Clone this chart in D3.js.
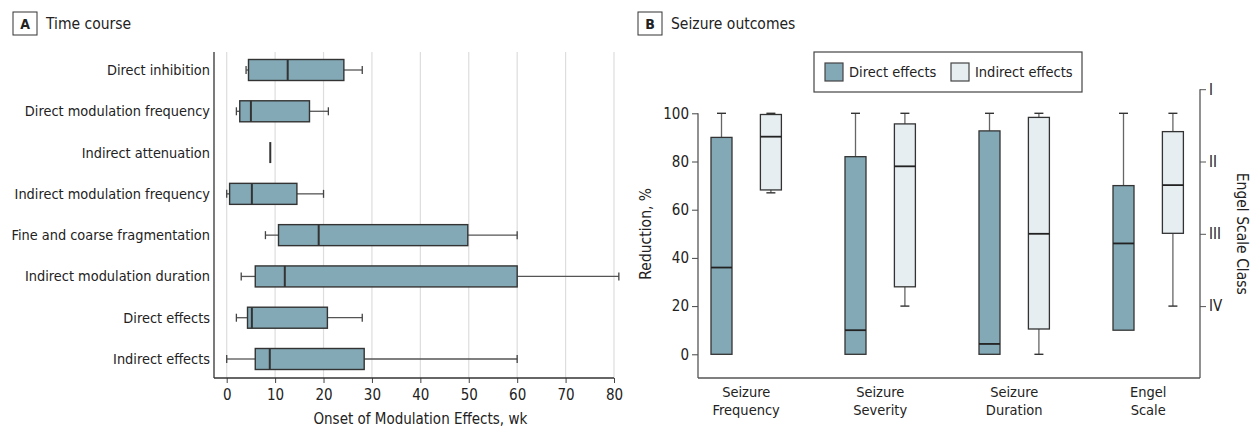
<!DOCTYPE html>
<html>
<head>
<meta charset="utf-8">
<script src="https://cdn.jsdelivr.net/npm/d3@7"></script>
<style>
  body { margin: 0; background: #fff; }
  svg text { font-family: "Liberation Sans Narrow", "DejaVu Sans Condensed", sans-serif; fill: #222; }
</style>
</head>
<body>
<div id="chart"></div>
<script>
// Panel A: onset of modulation effects (weeks)
var catsA = ["Direct inhibition", "Direct modulation frequency", "Indirect attenuation",
  "Indirect modulation frequency", "Fine and coarse fragmentation", "Indirect modulation duration",
  "Direct effects", "Indirect effects"];
var minA = [4, 2, 9, 0, 8, 3, 2, 0];
var q1A  = [4.5, 2.7, 9, 0.6, 10.7, 5.9, 4.3, 5.9];
var medA = [12.6, 5, 9, 5.2, 19, 12, 5.2, 8.9];
var q3A  = [24.2, 17.1, 9, 14.5, 49.8, 60, 20.8, 28.4];
var maxA = [28, 21, 9, 20, 60, 81, 28, 60];
var ticksA = [0, 10, 20, 30, 40, 50, 60, 70, 80];

// Panel B: seizure outcomes (% reduction)
var catsB = ["Seizure Frequency", "Seizure Severity", "Seizure Duration", "Engel Scale"];
var catsBLines = [["Seizure", "Frequency"], ["Seizure", "Severity"], ["Seizure", "Duration"], ["Engel", "Scale"]];
var groupsB = ["Direct effects", "Indirect effects"];
var directMin = [0, 0, 0, 10];
var directQ1  = [0, 0, 0, 10];
var directMed = [36, 10, 4.3, 46];
var directQ3  = [90, 82, 92.7, 70];
var directMax = [100, 100, 100, 100];
var indirectMin = [67, 20, 0, 20];
var indirectQ1  = [68.2, 28, 10.5, 50.2];
var indirectMed = [90.3, 78, 50, 70.2];
var indirectQ3  = [99.5, 95.6, 98.3, 92.4];
var indirectMax = [100, 100, 100, 100];
var ticksB = [0, 20, 40, 60, 80, 100];
var engelLabels = ["I", "II", "III", "IV"];
var engelClass = [1, 2, 3, 4];

var darkFill = "#84a9b6", lightFill = "#e6eef1", edge = "#333";

var svg = d3.select("#chart").append("svg")
  .attr("width", 1254)
  .attr("height", 430);

// panel header tags
function header(x, letter, title) {
  svg.append("rect").attr("x", x).attr("y", 12).attr("width", 24).attr("height", 23)
    .attr("fill", "#fff").attr("stroke", "#333").attr("stroke-width", 1);
  svg.append("text").attr("x", x + 12).attr("y", 29).attr("text-anchor", "middle")
    .style("font-weight", "bold").style("font-size", "14px").text(letter);
  svg.append("text").attr("x", x + 33).attr("y", 29).style("font-size", "15.5px").text(title);
}
header(13, "A", "Time course");
header(638, "B", "Seizure outcomes");

// ---------- Panel A ----------
var xA = d3.scaleLinear().domain([0, 80]).range([226.7, 614]);
var yA = d3.scalePoint().domain(catsA).range([70, 359]);
var rowsA = catsA.map(function(c, i) {
  return { cat: c, min: minA[i], q1: q1A[i], med: medA[i], q3: q3A[i], max: maxA[i] };
});

var gA = svg.append("g");
gA.selectAll("line.grid").data(ticksA).enter().append("line")
  .attr("class", "grid")
  .attr("x1", function(d) { return xA(d); }).attr("x2", function(d) { return xA(d); })
  .attr("y1", 52).attr("y2", 378)
  .attr("stroke", "#ddd").attr("stroke-width", 1.2);

var axA = gA.append("g").attr("transform", "translate(0,378)")
  .call(d3.axisBottom(xA).tickValues(ticksA).tickSize(5).tickSizeOuter(0));
axA.select(".domain").remove();
axA.selectAll(".tick line").attr("stroke", "#444");
axA.selectAll(".tick text").style("font-size", "15px").attr("dy", "0.9em").style("fill", "#222");
gA.append("line").attr("x1", 214).attr("x2", xA(80)).attr("y1", 378).attr("y2", 378)
  .attr("stroke", "#333").attr("stroke-width", 1.3);
gA.append("line").attr("x1", 214).attr("x2", 214).attr("y1", 52).attr("y2", 378)
  .attr("stroke", "#333").attr("stroke-width", 1.3);

gA.selectAll("text.cat").data(catsA).enter().append("text")
  .attr("class", "cat")
  .attr("x", 210).attr("y", function(d) { return yA(d); })
  .attr("dy", "0.35em").attr("text-anchor", "end")
  .style("font-size", "14.4px").text(function(d) { return d; });

gA.append("text").attr("x", xA(40)).attr("y", 424).attr("text-anchor", "middle")
  .style("font-size", "15px").text("Onset of Modulation Effects, wk");

var boxH = 21, capH = 8;
var rowG = gA.selectAll("g.row").data(rowsA).enter().append("g").attr("class", "row");
rowG.filter(function(d) { return d.max > d.min; }).each(function(d) {
  var g = d3.select(this), y = yA(d.cat);
  g.append("line").attr("x1", xA(d.min)).attr("x2", xA(d.q1)).attr("y1", y).attr("y2", y)
    .attr("stroke", "#555").attr("stroke-width", 1.3);
  g.append("line").attr("x1", xA(d.q3)).attr("x2", xA(d.max)).attr("y1", y).attr("y2", y)
    .attr("stroke", "#555").attr("stroke-width", 1.3);
  [d.min, d.max].forEach(function(v) {
    g.append("line").attr("x1", xA(v)).attr("x2", xA(v))
      .attr("y1", y - capH / 2).attr("y2", y + capH / 2)
      .attr("stroke", "#444").attr("stroke-width", 1.3);
  });
  g.append("rect").attr("x", xA(d.q1)).attr("y", y - boxH / 2)
    .attr("width", xA(d.q3) - xA(d.q1)).attr("height", boxH)
    .attr("fill", darkFill).attr("stroke", edge).attr("stroke-width", 1.4);
});
rowG.append("line")
  .attr("x1", function(d) { return xA(d.med); }).attr("x2", function(d) { return xA(d.med); })
  .attr("y1", function(d) { return yA(d.cat) - boxH / 2; })
  .attr("y2", function(d) { return yA(d.cat) + boxH / 2; })
  .attr("stroke", "#333").attr("stroke-width", 2);

// ---------- Panel B ----------
var yB = d3.scaleLinear().domain([0, 100]).range([354.3, 113.3]);
var xB = d3.scalePoint().domain(catsB).range([746.2, 1148.2]);
var xG = d3.scalePoint().domain(groupsB).range([-24.7, 24.7]);
var engel = d3.scaleLinear().domain([1, 4]).range([yB(110), yB(20)]);
var boxW = 21;

var gB = svg.append("g");
var left = 698, right = 1200, bottom = 378;

var axL = gB.append("g").attr("transform", "translate(" + left + ",0)")
  .call(d3.axisLeft(yB).tickValues(ticksB).tickSize(6).tickSizeOuter(0));
axL.select(".domain").remove();
axL.selectAll(".tick line").attr("stroke", "#444");
axL.selectAll(".tick text").style("font-size", "15px").style("fill", "#222");
gB.append("line").attr("x1", left).attr("x2", left).attr("y1", yB(100)).attr("y2", bottom)
  .attr("stroke", "#555").attr("stroke-width", 1.3);
gB.append("line").attr("x1", left).attr("x2", right).attr("y1", bottom).attr("y2", bottom)
  .attr("stroke", "#555").attr("stroke-width", 1.3);

var axR = gB.append("g").attr("transform", "translate(" + right + ",0)")
  .call(d3.axisRight(engel).tickValues(engelClass).tickSize(6)
    .tickFormat(function(d, i) { return engelLabels[i]; }));
axR.select(".domain").remove();
axR.selectAll(".tick line").attr("stroke", "#555");
axR.selectAll(".tick text").style("font-size", "15px").style("fill", "#222");
gB.append("line").attr("x1", right).attr("x2", right).attr("y1", engel(1)).attr("y2", bottom)
  .attr("stroke", "#555").attr("stroke-width", 1.3);

gB.append("text").attr("transform", "translate(651," + yB(50) + ") rotate(-90)")
  .attr("text-anchor", "middle").style("font-size", "15.5px").text("Reduction, %");
gB.append("text").attr("transform", "translate(1237," + yB(50) + ") rotate(90)")
  .attr("text-anchor", "middle").style("font-size", "15.5px").text("Engel Scale Class");

var catLbl = gB.selectAll("text.catb").data(catsB).enter().append("text")
  .attr("class", "catb").attr("text-anchor", "middle").style("font-size", "14.5px");
catLbl.each(function(d, i) {
  var t = d3.select(this);
  catsBLines[i].forEach(function(line, k) {
    t.append("tspan").attr("x", xB(d)).attr("y", 397 + k * 18).text(line);
  });
});

var boxesB = [];
catsB.forEach(function(c, i) {
  boxesB.push({ cat: c, grp: groupsB[0], fill: darkFill, min: directMin[i], q1: directQ1[i], med: directMed[i], q3: directQ3[i], max: directMax[i] });
  boxesB.push({ cat: c, grp: groupsB[1], fill: lightFill, min: indirectMin[i], q1: indirectQ1[i], med: indirectMed[i], q3: indirectQ3[i], max: indirectMax[i] });
});

gB.selectAll("g.box").data(boxesB).enter().append("g").attr("class", "box").each(function(d) {
  var g = d3.select(this), cx = xB(d.cat) + xG(d.grp);
  [[d.q3, d.max], [d.min, d.q1]].forEach(function(p) {
    if (p[1] - p[0] > 0.6) {
      g.append("line").attr("x1", cx).attr("x2", cx).attr("y1", yB(p[0])).attr("y2", yB(p[1]))
        .attr("stroke", "#666").attr("stroke-width", 1.3);
    }
  });
  [d.min, d.max].forEach(function(v) {
    if (v !== d.q1 && v !== d.q3) {
      g.append("line").attr("x1", cx - 4.5).attr("x2", cx + 4.5).attr("y1", yB(v)).attr("y2", yB(v))
        .attr("stroke", "#333").attr("stroke-width", 1.4);
    }
  });
  g.append("rect").attr("x", cx - boxW / 2).attr("y", yB(d.q3))
    .attr("width", boxW).attr("height", yB(d.q1) - yB(d.q3))
    .attr("fill", d.fill).attr("stroke", edge).attr("stroke-width", 1.3);
  g.append("line").attr("x1", cx - boxW / 2).attr("x2", cx + boxW / 2)
    .attr("y1", yB(d.med)).attr("y2", yB(d.med))
    .attr("stroke", "#222").attr("stroke-width", 1.8);
});

// legend
var lg = gB.append("g").attr("transform", "translate(814,52)");
lg.append("rect").attr("width", 268).attr("height", 40)
  .attr("fill", "#fff").attr("stroke", "#444").attr("stroke-width", 1.2);
var lgItems = [
  { label: groupsB[0], fill: darkFill, x: 11 },
  { label: groupsB[1], fill: lightFill, x: 137 }
];
var li = lg.selectAll("g.li").data(lgItems).enter().append("g")
  .attr("transform", function(d) { return "translate(" + d.x + ",11)"; });
li.append("rect").attr("width", 18).attr("height", 18)
  .attr("fill", function(d) { return d.fill; }).attr("stroke", "#444").attr("stroke-width", 1.2);
li.append("text").attr("x", 24).attr("y", 9).attr("dy", "0.35em")
  .style("font-size", "14.5px").text(function(d) { return d.label; });
</script>
</body>
</html>
